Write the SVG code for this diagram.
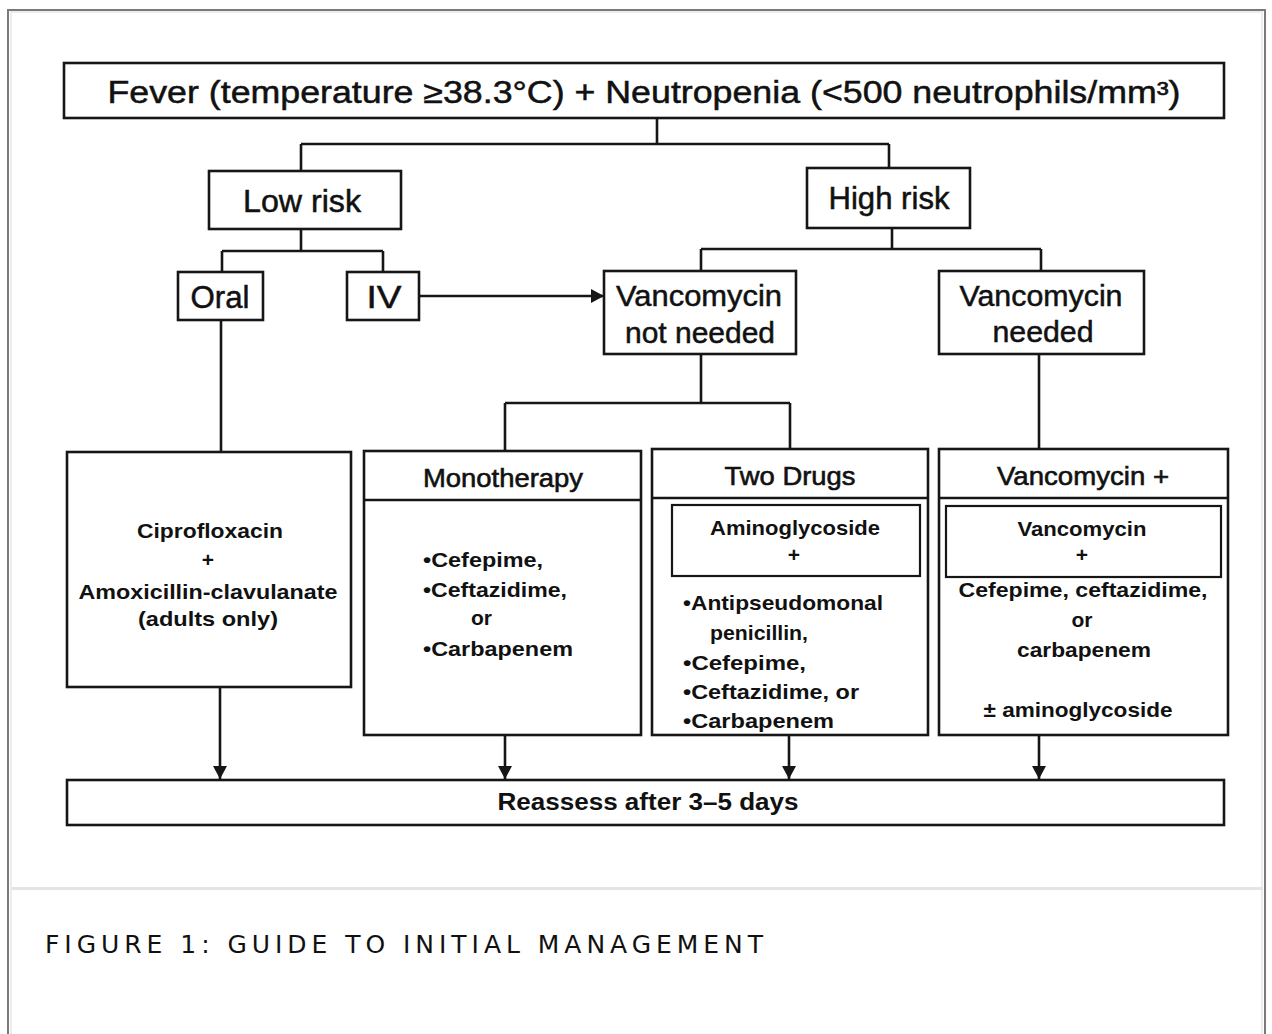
<svg xmlns="http://www.w3.org/2000/svg" width="1272" height="1034" viewBox="0 0 1272 1034">
<style>
.box{fill:#fff;stroke:#161616;stroke-width:2.6}
.ln{fill:none;stroke:#161616;stroke-width:2.6}
.big{font-family:"Liberation Sans",Arial,sans-serif;font-size:31px;fill:#111;stroke:#111;stroke-width:0.5;text-anchor:middle}
.hd{font-family:"Liberation Sans",Arial,sans-serif;font-size:26px;fill:#111;stroke:#111;stroke-width:0.6;text-anchor:middle}
.sm{font-family:"Liberation Sans",Arial,sans-serif;font-size:21px;font-weight:bold;fill:#111}
.c{text-anchor:middle}
.cap{font-family:"DejaVu Sans",Verdana,sans-serif;font-size:25px;fill:#111}
</style>
<defs>
<marker id="ah" markerWidth="13" markerHeight="14" refX="13" refY="7" orient="auto" markerUnits="userSpaceOnUse">
<path d="M0,0 L13,7 L0,14 Z" fill="#161616"/>
</marker>
</defs>
<rect x="0" y="0" width="1272" height="1034" fill="#fff"/>
<g id="frame">
<rect x="8" y="10" width="1257" height="1100" fill="none" stroke="#7a7a7a" stroke-width="2"/>
<rect x="11" y="12" width="1251" height="1100" fill="none" stroke="#ececec" stroke-width="2"/>
<line x1="12" y1="888.5" x2="1263" y2="888.5" stroke="#e4e4e4" stroke-width="3"/>
</g>
<g id="connectors">
<path class="ln" d="M657,118 V144 M301,144 H889 M301,144 V171 M889,144 V168"/>
<path class="ln" d="M301,229 V251 M222,251 H383 M222,251 V272 M383,251 V272"/>
<path class="ln" d="M892,228 V249 M701,249 H1041 M701,249 V271 M1041,249 V271"/>
<path class="ln" d="M419,296 H604" marker-end="url(#ah)"/>
<path class="ln" d="M221,320 V452"/>
<path class="ln" d="M701,354 V403 M505,403 H790 M505,403 V451 M790,403 V449"/>
<path class="ln" d="M1039,354 V449"/>
<path class="ln" d="M220,687 V779" marker-end="url(#ah)"/>
<path class="ln" d="M505,735 V779" marker-end="url(#ah)"/>
<path class="ln" d="M789,735 V779" marker-end="url(#ah)"/>
<path class="ln" d="M1039,735 V779" marker-end="url(#ah)"/>
</g>
<g id="fever">
<rect class="box" x="64" y="63" width="1160" height="55"/>
<text class="big" x="644" y="103" textLength="1073" lengthAdjust="spacingAndGlyphs">Fever (temperature ≥38.3°C) + Neutropenia (&lt;500 neutrophils/mm³)</text>
</g>
<g id="low-risk">
<rect class="box" x="209" y="171" width="192" height="58"/>
<text class="big" x="302" y="212" textLength="118" lengthAdjust="spacingAndGlyphs">Low risk</text>
</g>
<g id="high-risk">
<rect class="box" x="807" y="168" width="163" height="60"/>
<text class="big" x="889" y="209" textLength="121" lengthAdjust="spacingAndGlyphs">High risk</text>
</g>
<g id="oral">
<rect class="box" x="178" y="272" width="85" height="48"/>
<text class="big" x="220" y="308" textLength="59" lengthAdjust="spacingAndGlyphs">Oral</text>
</g>
<g id="iv">
<rect class="box" x="347" y="272" width="72" height="48"/>
<text class="big" x="384" y="308" textLength="35" lengthAdjust="spacingAndGlyphs">IV</text>
</g>
<g id="vanco-not-needed">
<rect class="box" x="604" y="271" width="192" height="83"/>
<text class="big" x="699" y="306" style="font-size:29px" textLength="166" lengthAdjust="spacingAndGlyphs">Vancomycin</text>
<text class="big" x="700" y="343" style="font-size:29px" textLength="150" lengthAdjust="spacingAndGlyphs">not needed</text>
</g>
<g id="vanco-needed">
<rect class="box" x="939" y="271" width="205" height="83"/>
<text class="big" x="1041" y="306" style="font-size:29px" textLength="163" lengthAdjust="spacingAndGlyphs">Vancomycin</text>
<text class="big" x="1043" y="342" style="font-size:29px" textLength="101" lengthAdjust="spacingAndGlyphs">needed</text>
</g>
<g id="cipro">
<rect class="box" x="67" y="452" width="284" height="235"/>
<text class="sm c" x="210" y="538" textLength="146" lengthAdjust="spacingAndGlyphs">Ciprofloxacin</text>
<text class="sm c" x="208" y="567">+</text>
<text class="sm c" x="208" y="599" textLength="259" lengthAdjust="spacingAndGlyphs">Amoxicillin-clavulanate</text>
<text class="sm c" x="208" y="626" textLength="140" lengthAdjust="spacingAndGlyphs">(adults only)</text>
</g>
<g id="monotherapy">
<rect class="box" x="364" y="451" width="277" height="284"/>
<line class="ln" x1="364" y1="500" x2="641" y2="500"/>
<text class="hd" x="503" y="487" textLength="160" lengthAdjust="spacingAndGlyphs">Monotherapy</text>
<text class="sm" x="423" y="567" textLength="120" lengthAdjust="spacingAndGlyphs">•Cefepime,</text>
<text class="sm" x="423" y="597" textLength="144" lengthAdjust="spacingAndGlyphs">•Ceftazidime,</text>
<text class="sm" x="471" y="625" textLength="21" lengthAdjust="spacingAndGlyphs">or</text>
<text class="sm" x="423" y="656" textLength="150" lengthAdjust="spacingAndGlyphs">•Carbapenem</text>
</g>
<g id="two-drugs">
<rect class="box" x="652" y="449" width="276" height="286"/>
<line class="ln" x1="652" y1="498" x2="928" y2="498"/>
<text class="hd" x="790" y="485" textLength="131" lengthAdjust="spacingAndGlyphs">Two Drugs</text>
<rect class="box" x="672" y="505" width="248" height="71" style="stroke-width:2.2"/>
<text class="sm c" x="795" y="535" textLength="170" lengthAdjust="spacingAndGlyphs">Aminoglycoside</text>
<text class="sm c" x="794" y="562">+</text>
<text class="sm" x="683" y="610" textLength="200" lengthAdjust="spacingAndGlyphs">•Antipseudomonal</text>
<text class="sm" x="710" y="640" textLength="98" lengthAdjust="spacingAndGlyphs">penicillin,</text>
<text class="sm" x="683" y="670" textLength="123" lengthAdjust="spacingAndGlyphs">•Cefepime,</text>
<text class="sm" x="683" y="699" textLength="176" lengthAdjust="spacingAndGlyphs">•Ceftazidime, or</text>
<text class="sm" x="683" y="728" textLength="151" lengthAdjust="spacingAndGlyphs">•Carbapenem</text>
</g>
<g id="vanco-plus">
<rect class="box" x="939" y="449" width="289" height="286"/>
<line class="ln" x1="939" y1="498" x2="1228" y2="498"/>
<text class="hd" x="1083" y="485" textLength="172" lengthAdjust="spacingAndGlyphs">Vancomycin +</text>
<rect class="box" x="946" y="506" width="275" height="71" style="stroke-width:2.2"/>
<text class="sm c" x="1082" y="536" textLength="129" lengthAdjust="spacingAndGlyphs">Vancomycin</text>
<text class="sm c" x="1082" y="562">+</text>
<text class="sm c" x="1083" y="597" textLength="249" lengthAdjust="spacingAndGlyphs">Cefepime, ceftazidime,</text>
<text class="sm c" x="1082" y="627" textLength="21" lengthAdjust="spacingAndGlyphs">or</text>
<text class="sm c" x="1084" y="657" textLength="134" lengthAdjust="spacingAndGlyphs">carbapenem</text>
<text class="sm c" x="1078" y="717" textLength="189" lengthAdjust="spacingAndGlyphs">± aminoglycoside</text>
</g>
<g id="reassess">
<rect class="box" x="67" y="780" width="1157" height="45"/>
<text class="sm c" x="648" y="810" style="font-size:23px" textLength="301" lengthAdjust="spacingAndGlyphs">Reassess after 3–5 days</text>
</g>
<g id="caption">
<text class="cap" x="45" y="953" textLength="718" lengthAdjust="spacing">FIGURE 1: GUIDE TO INITIAL MANAGEMENT</text>
</g>
</svg>
